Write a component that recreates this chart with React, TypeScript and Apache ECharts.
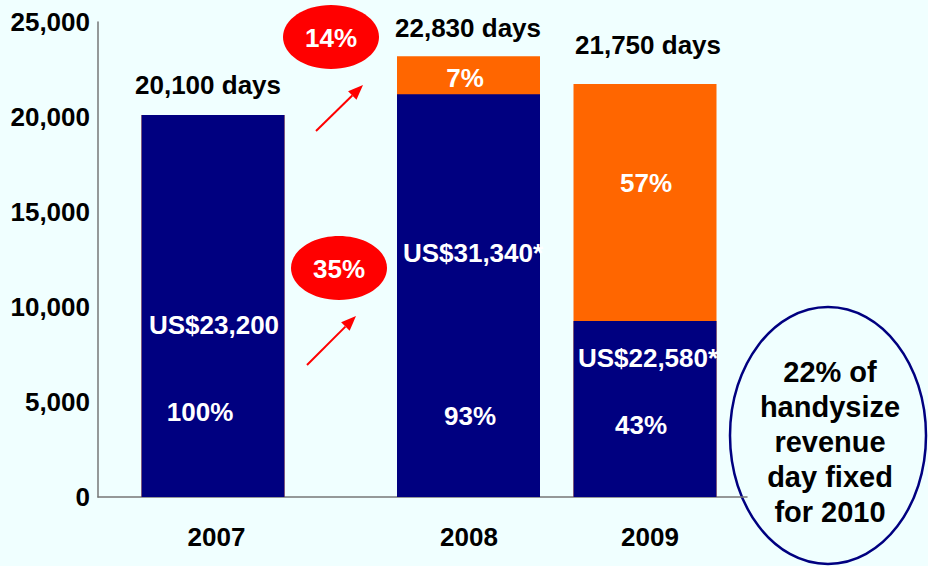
import React, { useEffect, useRef } from 'react';
import * as echarts from 'echarts';

// ---- data ----
const years = ['2007', '2008', '2009'];
const fixedDays = [20100, 21200, 9260];
const spotDays = [0, 2000, 12480];
const daysLabels = ['20,100 days', '22,830 days', '21,750 days'];
const fixedShare = ['100%', '93%', '43%'];
const spotShare = ['', '7%', '57%'];
const fixedRates = ['US$23,200', 'US$31,340*', 'US$22,580*'];
const growthLabels = ['14%', '35%'];
const noteLines = ['22% of', 'handysize', 'revenue', 'day fixed', 'for 2010'];

// ---- layout (positions in x-axis units, 1 unit = 1px) ----
const BAR_X = [115, 370.5, 547];
const LABEL_X = [118.5, 371, 552];
const NAVY_LBL = [
  { dx: 1, dy: 62.5, gap: 87, pShift: -14 },
  { dx: 4.5, dy: 39, gap: 163, pShift: -3 },
  { dx: 3, dy: -17.5, gap: 67, pShift: -7 },
];
const SPOT_LBL = [
  { dx: 0, dy: 0 },
  { dx: -3.5, dy: -198.6 },
  { dx: 1, dy: -107.4 },
];
const DAYS_LBL = [
  { dx: -5, dist: 17 },
  { dx: -0.5, dist: 15 },
  { dx: 3, dist: 26 },
];

const NAVY = '#000080';
const ORANGE = '#FF6600';
const BG = '#F0FFFF';
const FONT = 'Liberation Sans, Arial, sans-serif';

export default function App() {
  const ref = useRef<HTMLDivElement>(null);
  useEffect(() => {
    document.body.style.margin = '0';
    if (!ref.current) return;
    const chart = echarts.init(ref.current, null, { renderer: 'svg' });
    const totals = fixedDays.map((v, i) => v + spotDays[i]);
    const txt = { fontFamily: FONT, fontWeight: 'bold' as const, fontSize: 26 };

    const arrow = (x1: number, y1: number, x2: number, y2: number) => {
      const len = Math.hypot(x2 - x1, y2 - y1);
      const ux = (x2 - x1) / len, uy = (y2 - y1) / len;
      const hl = 15, hw = 6;
      const bx = x2 - ux * hl, by = y2 - uy * hl;
      return [
        { type: 'line', shape: { x1, y1, x2: bx, y2: by }, style: { stroke: '#FF0000', lineWidth: 2 } },
        {
          type: 'polygon',
          shape: { points: [[x2, y2], [bx - uy * hw, by + ux * hw], [bx + uy * hw, by - ux * hw]] },
          style: { fill: '#FF0000' },
        },
      ];
    };

    chart.setOption({
      animation: false,
      backgroundColor: BG,
      grid: { left: 98, right: 181, top: 22, bottom: 69, outerBoundsMode: 'none' },
      xAxis: {
        type: 'value',
        min: 0,
        max: 649,
        axisLine: { show: true, lineStyle: { color: '#777', width: 1.5 } },
        axisTick: { show: false },
        splitLine: { show: false },
        axisLabel: {
          customValues: LABEL_X,
          formatter: (v: number) => {
            const i = LABEL_X.indexOf(v);
            return i >= 0 ? years[i] : '';
          },
          margin: 27,
          color: '#000',
          ...txt,
        },
      },
      yAxis: {
        type: 'value',
        min: 0,
        max: 25000,
        interval: 5000,
        axisLine: { show: true, lineStyle: { color: '#777', width: 1.5 } },
        axisTick: { show: false },
        splitLine: { show: false },
        axisLabel: {
          formatter: (v: number) => v.toLocaleString('en-US'),
          margin: 8,
          color: '#000',
          ...txt,
        },
      },
      series: [
        {
          name: 'Spot days',
          type: 'bar',
          barWidth: 143,
          barGap: '-100%',
          itemStyle: { color: ORANGE },
          data: totals.map((v, i) => ({
            value: [BAR_X[i], v],
            label: {
              show: spotShare[i] !== '',
              position: 'inside',
              offset: [SPOT_LBL[i].dx, SPOT_LBL[i].dy],
              formatter: spotShare[i],
              color: '#fff',
              ...txt,
            },
          })),
        },
        {
          name: 'Fixed days',
          type: 'bar',
          barWidth: 143,
          barGap: '-100%',
          itemStyle: { color: NAVY },
          data: fixedDays.map((v, i) => {
            const L = NAVY_LBL[i];
            const pad = L.pShift < 0 ? [0, -2 * L.pShift, 0, 0] : [0, 0, 0, 2 * L.pShift];
            return {
              value: [BAR_X[i], v],
              label: {
                show: true,
                position: 'inside',
                offset: [L.dx, L.dy],
                formatter: `{r|${fixedRates[i]}}\n{p|${fixedShare[i]}}`,
                rich: {
                  r: { color: '#fff', ...txt, lineHeight: L.gap },
                  p: { color: '#fff', ...txt, lineHeight: L.gap, padding: pad },
                },
              },
            };
          }),
        },
        {
          name: 'Total days',
          type: 'bar',
          barWidth: 143,
          barGap: '-100%',
          silent: true,
          itemStyle: { color: 'rgba(0,0,0,0)' },
          data: totals.map((v, i) => ({
            value: [BAR_X[i], v],
            label: {
              show: true,
              position: 'top',
              distance: DAYS_LBL[i].dist,
              offset: [DAYS_LBL[i].dx, 0],
              formatter: daysLabels[i],
              color: '#000',
              lineHeight: 26,
              ...txt,
            },
          })),
        },
      ],
      graphic: [
        { type: 'ellipse', shape: { cx: 331, cy: 37, rx: 48, ry: 32 }, style: { fill: '#FF0000' } },
        {
          type: 'text', x: 331, y: 38,
          style: { text: growthLabels[0], fill: '#fff', align: 'center', verticalAlign: 'middle', ...txt },
        },
        { type: 'ellipse', shape: { cx: 339, cy: 268, rx: 48, ry: 32 }, style: { fill: '#FF0000' } },
        {
          type: 'text', x: 339, y: 269,
          style: { text: growthLabels[1], fill: '#fff', align: 'center', verticalAlign: 'middle', ...txt },
        },
        ...arrow(316, 131, 363, 85),
        ...arrow(307, 365, 356, 316),
        {
          type: 'ellipse',
          shape: { cx: 828, cy: 435.5, rx: 98, ry: 128.5 },
          style: { fill: BG, stroke: NAVY, lineWidth: 2.5 },
        },
        {
          type: 'text', x: 830, y: 442,
          style: {
            text: noteLines.join('\n'),
            fill: '#000',
            align: 'center',
            verticalAlign: 'middle',
            lineHeight: 35,
            fontFamily: FONT,
            fontWeight: 'bold',
            fontSize: 29,
          },
        },
      ],
    });
    return () => chart.dispose();
  }, []);
  return <div ref={ref} style={{ width: 928, height: 566 }} />;
}
